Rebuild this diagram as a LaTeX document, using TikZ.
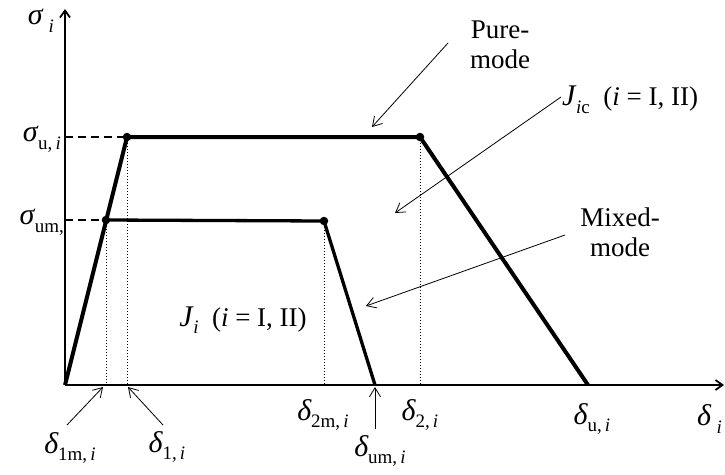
\documentclass[tikz,border=0pt]{standalone}
\usepackage{fontspec}
\setmainfont{Liberation Serif}
\usetikzlibrary{arrows.meta}
\newcommand{\grsub}[2]{{\fontsize{30}{30}\selectfont\textit{#1}}\kern-0.5pt\raisebox{-0.28em}{\fontsize{19}{19}\selectfont #2}}
\begin{document}
\begin{tikzpicture}[x=1pt,y=-1pt,
  font=\fontsize{27}{30}\selectfont,
  axis/.style={line width=1.8pt,-{Straight Barb[length=7pt,width=10pt]}},
  curve/.style={line width=4pt,line join=round},
  guide/.style={line width=1.2pt,dash pattern=on 8pt off 5pt},
  drop/.style={line width=1pt,dash pattern=on 1.3pt off 1.7pt},
  pointer/.style={line width=0.8pt,-{Straight Barb[length=9pt,width=11pt]}},
  dot/.style={circle,fill,inner sep=0pt,minimum size=8.5pt},
  lab/.style={inner sep=0pt}]
\useasboundingbox (0,0) rectangle (725,474);
% key points
\coordinate (O) at (65,385);
\coordinate (ytop) at (65,9);
\coordinate (xend) at (724,385);
\node[dot] (A) at (127,137) {};
\node[dot] (B) at (420,137) {};
\coordinate (C) at (588,385);
\node[dot] (M1) at (106,220) {};
\node[dot] (M2) at (324,221) {};
\coordinate (M3) at (375,385);
\coordinate (yA) at (65,137);
\coordinate (yM) at (65,220);
\coordinate (xM1) at (106,385);
\coordinate (xA) at (127,385);
\coordinate (xM2) at (324,385);
\coordinate (xB) at (420,385);
% axes
\draw[axis] (O) -- (ytop);
\draw[axis] (O) -- (xend);
% guides
\draw[guide] (yA) -- (A.center);
\draw[guide] (yM) -- (M1.center);
\draw[drop] (M1.center) -- (xM1);
\draw[drop] (A.center) -- (xA);
\draw[drop] (M2.center) -- (xM2);
\draw[drop] (B.center) -- (xB);
% curves
\draw[curve] (O) -- (A.center) -- (B.center) -- (C);
\draw[curve,line width=3.3pt] (M1.center) -- (M2.center) -- (M3);
% axis labels
\node[lab] (sy) at (41,21) {{\fontsize{30}{30}\selectfont\textit{σ}}\kern5pt\raisebox{-0.3em}{\fontsize{19}{19}\selectfont\textit{i}}};
\node[lab,anchor=east] (su) at (61,139) {\grsub{σ}{u,\,\textit{i}}};
\node[lab,anchor=east] (sum) at (64,222) {\grsub{σ}{um,}};
\node[lab] (d1m) at (70,448) {\grsub{δ}{1m,\,\textit{i}}};
\node[lab] (d1) at (167,447) {\grsub{δ}{1,\,\textit{i}}};
\node[lab] (d2m) at (323,415) {\grsub{δ}{2m,\,\textit{i}}};
\node[lab] (d2) at (420,415) {\grsub{δ}{2,\,\textit{i}}};
\node[lab] (dum) at (380,451) {\grsub{δ}{um,\,\textit{i}}};
\node[lab] (du) at (592,419) {\grsub{δ}{u,\,\textit{i}}};
\node[lab,anchor=west] (dx) at (697,419) {{\fontsize{30}{30}\selectfont\textit{δ}}\kern5pt\raisebox{-0.3em}{\fontsize{19}{19}\selectfont\textit{i}}};
% annotations
\node[lab,align=center] (pure) at (500,45) {Pure-\\mode};
\node[lab,anchor=west] (jic) at (562,100) {\grsub{J}{\textit{i}c}\ \ (\textit{i} = I, II)};
\node[lab,align=center] (mixed) at (620,232) {Mixed-\\mode};
\node[lab] (ji) at (243,320) {\grsub{J}{\textit{i}}\ \ (\textit{i} = I, II)};
% pointers
\coordinate (pT) at (372,127);
\coordinate (jT) at (395,213);
\coordinate (mT) at (366,306);
\draw[pointer] (448,43) -- (pT);
\draw[pointer] (jic.west) ++(-1,-3) -- (jT);
\draw[pointer] (565,235) -- (mT);
\coordinate (a1) at (103,387);
\coordinate (a2) at (128,387);
\coordinate (a3) at (375,387);
\draw[pointer] (67,425) -- (a1);
\draw[pointer] (163,425) -- (a2);
\draw[pointer] (375,429) -- (a3);
\end{tikzpicture}
\end{document}
